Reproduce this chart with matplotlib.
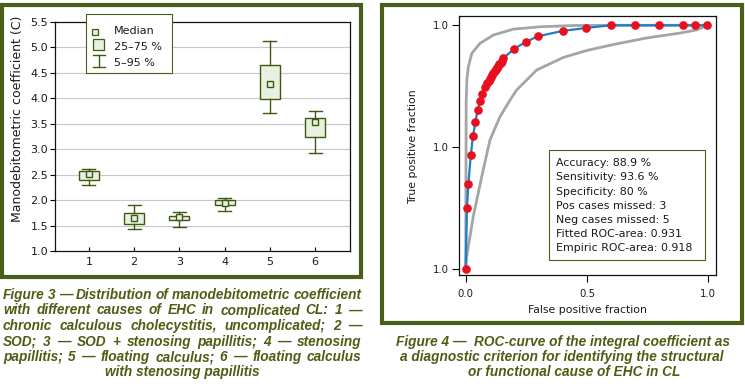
import matplotlib
matplotlib.use("Agg")
import matplotlib.pyplot as plt
from matplotlib.patches import Rectangle

# ---------------- data ----------------
groups = ["1", "2", "3", "4", "5", "6"]
whisker_low = [2.30, 1.43, 1.47, 1.79, 3.71, 2.93]
q1 = [2.39, 1.53, 1.61, 1.90, 3.98, 3.25]
median = [2.52, 1.65, 1.66, 1.95, 4.29, 3.54]
q3 = [2.57, 1.75, 1.69, 2.00, 4.65, 3.61]
whisker_high = [2.61, 1.90, 1.77, 2.04, 5.12, 3.76]
left_yticks = [1.0, 1.5, 2.0, 2.5, 3.0, 3.5, 4.0, 4.5, 5.0, 5.5]

roc_fpr = [0, 0.005, 0.011, 0.021, 0.030, 0.040, 0.049, 0.059, 0.069, 0.080,
           0.089, 0.094, 0.099, 0.104, 0.109, 0.114, 0.119, 0.124, 0.129, 0.134,
           0.139, 0.144, 0.149, 0.154, 0.199, 0.248, 0.298, 0.400, 0.496, 0.598,
           0.699, 0.797, 0.897, 0.946, 0.994]
roc_tpr = [0, 0.251, 0.350, 0.468, 0.547, 0.603, 0.652, 0.688, 0.717, 0.746,
           0.765, 0.773, 0.781, 0.789, 0.797, 0.805, 0.812, 0.819, 0.826, 0.833,
           0.840, 0.847, 0.855, 0.864, 0.903, 0.932, 0.955, 0.977, 0.989, 1.0,
           1.0, 1.0, 1.0, 1.0, 1.0]
upper_fpr = [0, 0.001, 0.002, 0.005, 0.011, 0.025, 0.059, 0.114, 0.196, 0.307, 0.442, 0.6, 1.0]
upper_tpr = [0, 0.35, 0.69, 0.78, 0.83, 0.885, 0.926, 0.960, 0.984, 0.994, 0.999, 1.0, 1.0]
lower_fpr = [0, 0.004, 0.031, 0.066, 0.100, 0.141, 0.183, 0.21, 0.293, 0.402, 0.50,
             0.608, 0.746, 0.883, 0.952, 0.985, 1.0]
lower_tpr = [0, 0.052, 0.216, 0.380, 0.530, 0.625, 0.694, 0.735, 0.817, 0.868, 0.897,
             0.921, 0.948, 0.968, 0.981, 0.995, 1.0]
roc_xticks = [0.0, 0.5, 1.0]
roc_xticklabels = ["0.0", "0.5", "1.0"]
roc_yticks = [0.0, 0.5, 1.0]
roc_yticklabels = ["1.0", "1.0", "1.0"]

stats_lines = ["Accuracy: 88.9 %", "Sensitivity: 93.6 %", "Specificity: 80 %",
               "Pos cases missed: 3", "Neg cases missed: 5",
               "Fitted ROC-area: 0.931", "Empiric ROC-area: 0.918"]

caption_left = ["Figure 3 — Distribution of manodebitometric coefficient",
                "with different causes of EHC in complicated CL: 1 —",
                "chronic calculous cholecystitis, uncomplicated; 2 —",
                "SOD; 3 — SOD + stenosing papillitis; 4 — stenosing",
                "papillitis; 5 — floating calculus; 6 — floating calculus",
                "with stenosing papillitis"]
caption_right = ["Figure 4 —  ROC-curve of the integral coefficient as",
                 "a diagnostic criterion for identifying the structural",
                 "or functional cause of EHC in CL"]

# ---------------- style ----------------
OLIVE = "#4a5e1a"
CAP = "#4f5c14"
BOX_EDGE = "#3f5a10"
BOX_FACE = "#e8f0e2"
TXT = "#1a1a1a"
W, H = 745, 386
fig = plt.figure(figsize=(W / 100, H / 100), dpi=100)
fig.patch.set_facecolor("white")

def fr(x0, y0, x1, y1):
    return [x0 / W, 1 - y1 / H, (x1 - x0) / W, (y1 - y0) / H]

# ---------------- left: box plot ----------------
ax = fig.add_axes(fr(55, 22, 350, 251))
positions = list(range(1, len(groups) + 1))
bstats = []
for i in range(len(groups)):
    bstats.append(dict(med=median[i], q1=q1[i], q3=q3[i],
                       whislo=whisker_low[i], whishi=whisker_high[i], fliers=[]))
ax.bxp(bstats, positions=positions, widths=0.44, capwidths=0.29, patch_artist=True,
       showfliers=False,
       boxprops=dict(facecolor=BOX_FACE, edgecolor=BOX_EDGE, linewidth=1.0),
       whiskerprops=dict(color=BOX_EDGE, linewidth=1.0),
       capprops=dict(color=BOX_EDGE, linewidth=1.0),
       medianprops=dict(linestyle="none"), zorder=3)
ax.plot(positions, median, linestyle="none", marker="s", markersize=4.3,
        markerfacecolor=BOX_FACE, markeredgecolor=BOX_EDGE, markeredgewidth=1.0, zorder=4)
ax.set_xlim(0.25, 6.77)
ax.set_ylim(1.0, 5.5)
ax.set_xticks(positions)
ax.set_xticklabels(groups)
ax.set_yticks(left_yticks)
ax.set_yticklabels([f"{v:.1f}" for v in left_yticks])
for v in left_yticks[1:-1]:
    ax.axhline(v, color="#c8c8c8", linewidth=0.8, zorder=1)
ax.tick_params(axis="y", direction="out", length=3.6, width=0.8, pad=1.3,
               labelsize=8, labelcolor=TXT)
ax.tick_params(axis="x", direction="in", length=3, width=0.8, pad=4.5,
               labelsize=8, labelcolor=TXT)
for s in ax.spines.values():
    s.set_linewidth(0.9)
    s.set_color("#111111")
ax.set_ylabel("Manodebitometric coefficient (C)", fontsize=9, color=TXT)
ax.yaxis.set_label_coords((17.3 - 55) / 295, (251 - 119) / 229)
ax.yaxis.label.set_verticalalignment("center")

# ---------------- right: ROC ----------------
ax2 = fig.add_axes(fr(459.3, 16, 715.7, 275))
ax2.plot(upper_fpr, upper_tpr, color="#a5a5a5", linewidth=2.0, solid_capstyle="round", zorder=2)
ax2.plot(lower_fpr, lower_tpr, color="#a5a5a5", linewidth=2.0, solid_capstyle="round", zorder=2)
ax2.plot(roc_fpr, roc_tpr, color="#1a7fc8", linewidth=1.6, zorder=3)
ax2.plot(roc_fpr, roc_tpr, linestyle="none", marker="o", markersize=5.2,
         markerfacecolor="#e8101e", markeredgecolor="#e8101e", zorder=4)
ax2.set_xlim(-0.0264, 1.0305)
ax2.set_ylim(-0.023, 1.038)
ax2.set_xticks(roc_xticks)
ax2.set_xticklabels(roc_xticklabels)
ax2.set_yticks(roc_yticks)
ax2.set_yticklabels(roc_yticklabels)
ax2.tick_params(axis="both", direction="out", length=5, width=0.8, labelsize=7.3,
                labelcolor=TXT)
ax2.tick_params(axis="x", pad=5)
ax2.tick_params(axis="y", pad=2.8)
for s in ax2.spines.values():
    s.set_linewidth(0.9)
    s.set_color("#111111")
ax2.set_xlabel("False positive fraction", fontsize=7.8, color=TXT)
ax2.xaxis.set_label_coords(0.5, (275 - 310) / 259)
ax2.xaxis.label.set_verticalalignment("center")
ax2.set_ylabel("True positive fraction", fontsize=7.8, color=TXT)
ax2.yaxis.set_label_coords((413.3 - 459.3) / 256.4, (275 - 146.7) / 259)
ax2.yaxis.label.set_verticalalignment("center")

# ---------------- overlay in pixel coords ----------------
ov = fig.add_axes([0, 0, 1, 1], zorder=10)
ov.set_xlim(0, W)
ov.set_ylim(H, 0)
ov.axis("off")
ov.patch.set_visible(False)

# frames
ov.add_patch(Rectangle((1.8, 4.7), 359.5, 272.5, fill=False, edgecolor=OLIVE, linewidth=3.0))
ov.add_patch(Rectangle((382.0, 4.7), 360.0, 318.3, fill=False, edgecolor=OLIVE, linewidth=3.0))

# legend (left)
ov.add_patch(Rectangle((86, 14), 85.5, 59.3, facecolor="white", edgecolor=OLIVE, linewidth=0.8))
ov.add_patch(Rectangle((92.2, 28.7), 6, 6, facecolor=BOX_FACE, edgecolor=BOX_EDGE, linewidth=0.9))
ov.add_patch(Rectangle((92.8, 38.6), 11.2, 11.2, facecolor=BOX_FACE, edgecolor=BOX_EDGE, linewidth=0.9))
ov.plot([98.6, 98.6], [55.0, 67.3], color=BOX_EDGE, linewidth=1.0)
ov.plot([92.8, 104.6], [55.0, 55.0], color=BOX_EDGE, linewidth=1.0)
ov.plot([92.8, 104.6], [67.3, 67.3], color=BOX_EDGE, linewidth=1.0)
for txt, yy in zip(["Median", "25–75 %", "5–95 %"], [30.7, 46.7, 63.3]):
    ov.text(114.3, yy, txt, fontsize=8, color=TXT, va="center", ha="left")

# stats box (right)
ov.add_patch(Rectangle((549, 150), 156, 110, facecolor="white", edgecolor=OLIVE, linewidth=0.8))
for i, line in enumerate(stats_lines):
    ov.text(556, 163.3 + i * 14.17, line, fontsize=7.9, color=TXT, va="center", ha="left")

# captions
cap_font = dict(fontsize=9.85, fontweight="bold", fontstyle="italic", color=CAP,
                family=["Liberation Sans", "DejaVu Sans"])
renderer = fig.canvas.get_renderer()

def width_px(s):
    t = ov.text(0, 0, s, **cap_font)
    w = t.get_window_extent(renderer=renderer).width
    t.remove()
    return w

x_left, x_right = 3.0, 361.5
ys = [295, 310.5, 326, 341.7, 357, 371.7]
for k, (line, yy) in enumerate(zip(caption_left, ys)):
    if k == len(caption_left) - 1:
        ov.text((x_left + x_right) / 2, yy, line, ha="center", va="center", **cap_font)
        continue
    words = line.split(" ")
    wws = [width_px(wd) for wd in words]
    gap = (x_right - x_left - sum(wws)) / (len(words) - 1)
    xx = x_left
    for wd, ww in zip(words, wws):
        ov.text(xx, yy, wd, ha="left", va="center", **cap_font)
        xx += ww + gap

for line, yy, xc in zip(caption_right, [341.7, 357, 371.7], [562.5, 562.0, 574.0]):
    ov.text(xc, yy, line, ha="center", va="center", **cap_font)

fig.savefig("out.png", dpi=100)
